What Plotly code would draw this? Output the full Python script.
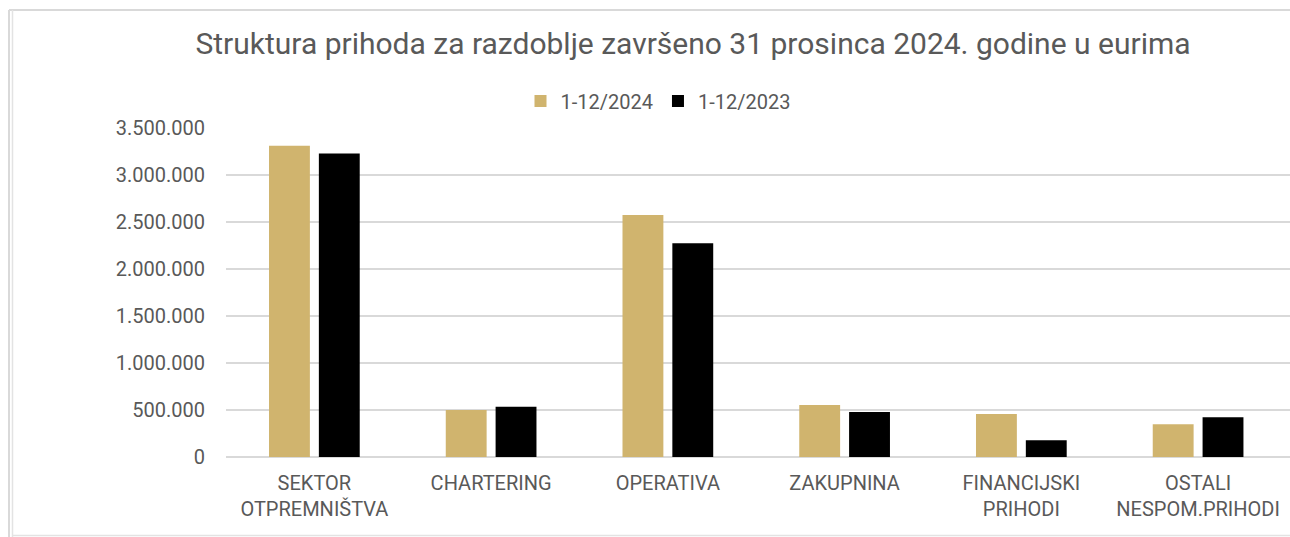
import plotly.graph_objects as go

categories = ["SEKTOR<br>OTPREMNIŠTVA", "CHARTERING", "OPERATIVA", "ZAKUPNINA",
              "FINANCIJSKI<br>PRIHODI", "OSTALI<br>NESPOM.PRIHODI"]
values_2024 = [3310000, 500000, 2575000, 553000, 457000, 348000]
values_2023 = [3230000, 535000, 2273000, 479000, 178000, 422000]
series_names = ["1-12/2024", "1-12/2023"]
tick_vals = [0, 500000, 1000000, 1500000, 2000000, 2500000, 3000000, 3500000]
tick_text = ["0", "500.000", "1.000.000", "1.500.000", "2.000.000", "2.500.000", "3.000.000", "3.500.000"]
title_text = "Struktura prihoda za razdoblje završeno 31 prosinca 2024. godine u eurima"

W, H = 1290, 537
FONT = "Roboto"
TXT = "#595959"

fig = go.Figure()
fig.add_trace(go.Bar(x=categories, y=values_2024, name=series_names[0],
                     marker=dict(color="#D0B46E", line=dict(width=0))))
fig.add_trace(go.Bar(x=categories, y=values_2023, name=series_names[1],
                     marker=dict(color="#000000", line=dict(width=0))))

fig.update_layout(
    width=W, height=H,
    paper_bgcolor="white", plot_bgcolor="white",
    margin=dict(l=226, r=0, t=128, b=80, autoexpand=False),
    barmode="group", bargap=0.436, bargroupgap=0.18,
    font=dict(family=FONT, color=TXT, size=20),
    title=dict(text=title_text, x=693 / W, xanchor="center",
               y=1 - 43 / H, yanchor="middle",
               font=dict(family=FONT, size=30, color=TXT)),
    legend=dict(orientation="h", x=658 / W, xanchor="center", xref="container",
                y=1 - 101 / H, yanchor="middle", yref="container",
                font=dict(family=FONT, size=20, color=TXT),
                itemwidth=30, traceorder="normal"),
    showlegend=True,
)
fig.update_xaxes(range=[-0.5, 5.52], showgrid=False, showline=False, zeroline=False,
                 tickfont=dict(family=FONT, size=20, color=TXT), ticks="",
                 ticklabelstandoff=12, automargin=False)
fig.update_yaxes(range=[0, 3500000], tickvals=tick_vals, ticktext=tick_text,
                 showgrid=True, gridcolor="#D9D9D9", gridwidth=1.5,
                 zeroline=True, zerolinecolor="#D9D9D9", zerolinewidth=1.5,
                 showline=False, ticks="", ticklabelstandoff=20, automargin=False,
                 tickfont=dict(family=FONT, size=20, color=TXT))

# frame of the embedded chart
py = lambda p: (457 - p) / (457 - 128)
px = lambda p: (p - 226) / (W - 226)
fig.add_shape(type="line", xref="paper", yref="paper",
              x0=px(9), x1=1.0, y0=py(10), y1=py(10),
              line=dict(color="#D9D9D9", width=2))
fig.add_shape(type="line", xref="paper", yref="paper",
              x0=px(9), x1=px(9), y0=py(10), y1=py(537),
              line=dict(color="#D9D9D9", width=2))
fig.add_shape(type="line", xref="paper", yref="paper",
              x0=px(12.5), x1=px(12.5), y0=py(10), y1=py(537),
              line=dict(color="#E3E3E3", width=1.5))
fig.add_shape(type="line", xref="paper", yref="paper",
              x0=px(12.5), x1=1.0, y0=py(535.5), y1=py(535.5),
              line=dict(color="#E3E3E3", width=1.5))

fig.write_html("out.html")
